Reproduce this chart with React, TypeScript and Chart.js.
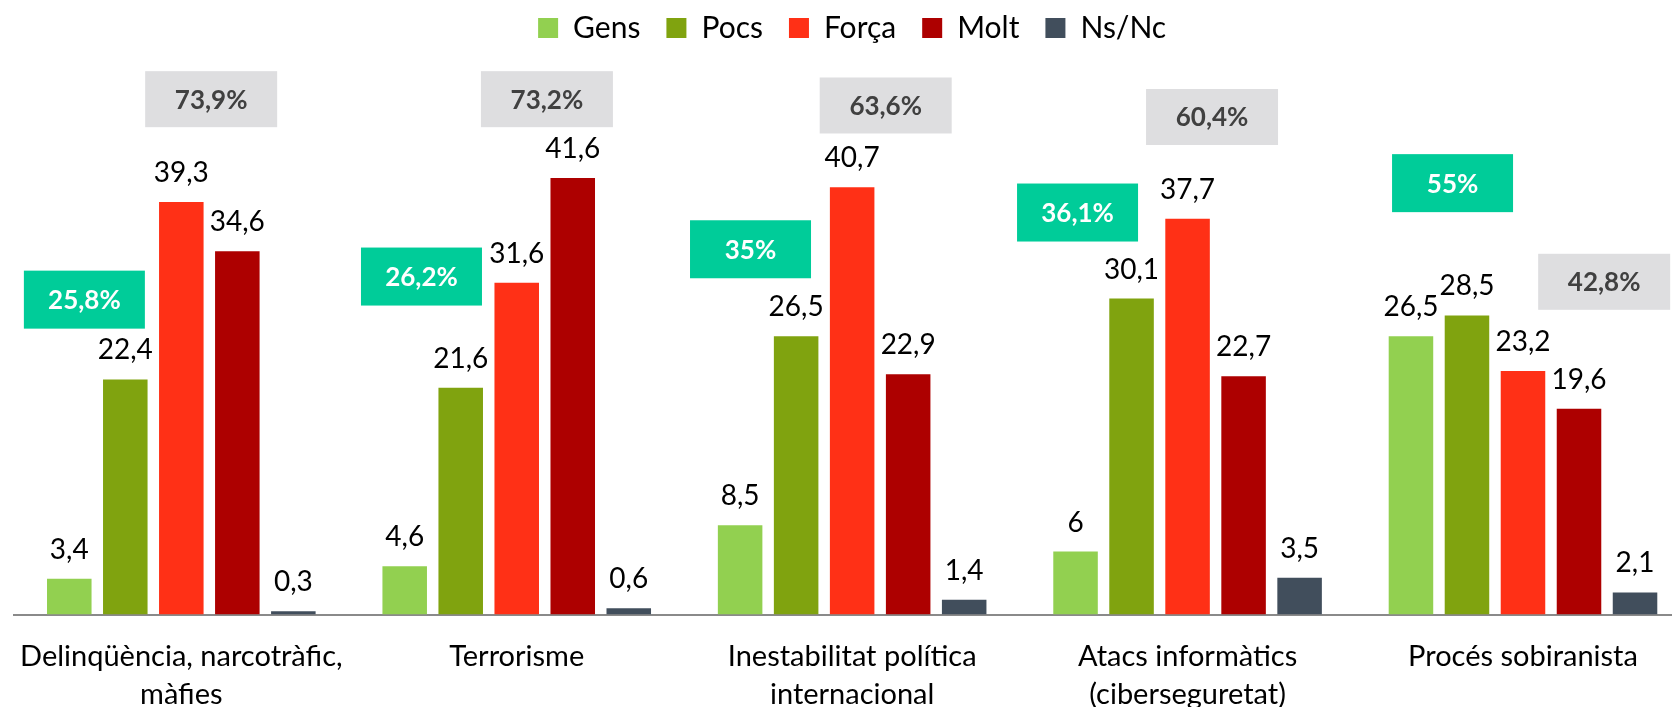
import React, { useEffect, useRef } from 'react';
import { Chart, registerables } from 'chart.js';

Chart.register(...registerables);

const categories = [
  ['Delinqüència, narcotràfic,', 'màfies'],
  ['Terrorisme'],
  ['Inestabilitat política', 'internacional'],
  ['Atacs informàtics', '(ciberseguretat)'],
  ['Procés sobiranista'],
];
const seriesNames = ['Gens', 'Pocs', 'Força', 'Molt', 'Ns/Nc'];
const gens = [3.4, 4.6, 8.5, 6, 26.5];
const pocs = [22.4, 21.6, 26.5, 30.1, 28.5];
const forca = [39.3, 31.6, 40.7, 37.7, 23.2];
const molt = [34.6, 41.6, 22.9, 22.7, 19.6];
const nsnc = [0.3, 0.6, 1.4, 3.5, 2.1];

// annotation box placement (category offset, value units)
const greenBoxOffset = [-0.289, -0.284, -0.303, -0.328, -0.21];
const greenBoxLevel = [30.0, 32.2, 34.8, 38.3, 41.1];
const grayBoxOffset = [0.089, 0.09, 0.1, 0.073, 0.242];
const grayBoxLevel = [49.1, 49.1, 48.5, 47.4, 31.7];

const colors = ['#92D050', '#80A30F', '#FF3016', '#AD0000', '#414E5C'];
const FONT = 'Lato, "Open Sans", sans-serif';

const fmt = (v: number) => String(v).replace('.', ',');
const sumFmt = (a: number, b: number) => fmt(Math.round((a + b) * 10) / 10) + '%';

const valueLabels = {
  id: 'valueLabels',
  afterDatasetsDraw(chart: any) {
    const { ctx } = chart;
    ctx.save();
    ctx.font = `28px ${FONT}`;
    ctx.fillStyle = '#000';
    ctx.textAlign = 'center';
    ctx.textBaseline = 'alphabetic';
    chart.data.datasets.forEach((ds: any, di: number) => {
      const meta = chart.getDatasetMeta(di);
      meta.data.forEach((bar: any, i: number) => {
        ctx.fillText(fmt(ds.data[i]), bar.x, bar.y - 20);
      });
    });
    ctx.restore();
  },
};

const boxLabels = {
  id: 'boxLabels',
  afterDatasetsDraw(chart: any) {
    const { ctx, scales } = chart;
    const xs = scales.x;
    const ys = scales.y;
    ctx.save();
    ctx.font = `bold 26px ${FONT}`;
    ctx.textAlign = 'center';
    ctx.textBaseline = 'middle';
    categories.forEach((_, i) => {
      // green box: Gens + Pocs
      let cx = xs.getPixelForValue(i + greenBoxOffset[i]);
      let cy = ys.getPixelForValue(greenBoxLevel[i]);
      let w = 121, h = 58;
      ctx.fillStyle = '#00CC99';
      ctx.fillRect(cx - w / 2, cy - h / 2, w, h);
      ctx.fillStyle = '#FFFFFF';
      ctx.fillText(sumFmt(gens[i], pocs[i]), cx, cy + 1);
      // gray box: Força + Molt
      cx = xs.getPixelForValue(i + grayBoxOffset[i]);
      cy = ys.getPixelForValue(grayBoxLevel[i]);
      w = 132; h = 56;
      ctx.fillStyle = '#DEDEE0';
      ctx.fillRect(cx - w / 2, cy - h / 2, w, h);
      ctx.fillStyle = '#404040';
      ctx.fillText(sumFmt(forca[i], molt[i]), cx, cy + 1);
    });
    ctx.restore();
  },
};

export default function App() {
  const canvasRef = useRef<HTMLCanvasElement>(null);

  useEffect(() => {
    if (!canvasRef.current) return;
    const series = [gens, pocs, forca, molt, nsnc];
    const chart = new Chart(canvasRef.current, {
      type: 'bar',
      data: {
        labels: categories as any,
        datasets: series.map((d, i) => ({
          label: seriesNames[i],
          data: d,
          backgroundColor: colors[i],
          borderWidth: 0,
          barPercentage: 0.795,
          categoryPercentage: 0.835,
        })),
      },
      options: {
        animation: false,
        responsive: true,
        maintainAspectRatio: false,
        layout: { padding: { left: 13.6, right: 13.3, top: -13, bottom: 0 } },
        plugins: {
          legend: {
            position: 'top',
            labels: {
              boxWidth: 20,
              boxHeight: 20,
              padding: 26,
              color: '#000',
              font: { family: FONT, size: 30 },
            },
          },
          tooltip: { enabled: false },
        },
        scales: {
          x: {
            grid: { display: false, drawTicks: false },
            border: { display: true, color: '#8A8A8A', width: 2 },
            ticks: {
              color: '#000',
              padding: 23,
              maxRotation: 0,
              autoSkip: false,
              font: { family: FONT, size: 29, lineHeight: 1.31 },
            },
            afterFit: (scale: any) => {
              scale.height = 92.5;
              scale.paddingLeft = 0;
              scale.paddingRight = 0;
            },
          },
          y: {
            display: false,
            min: 0,
            max: 53.5,
          },
        },
      },
      plugins: [valueLabels, boxLabels],
    });
    if ((document as any).fonts && (document as any).fonts.ready) {
      (document as any).fonts.load(`27px Lato`).then(() => chart.update()).catch(() => {});
    }
    return () => chart.destroy();
  }, []);

  return (
    <div
      style={{
        position: 'fixed',
        left: 0,
        top: 0,
        width: 1672,
        height: 707,
        overflow: 'hidden',
        background: '#fff',
      }}
    >
      <div style={{ position: 'relative', width: 1704, height: 707 }}>
        <canvas ref={canvasRef} />
      </div>
    </div>
  );
}
